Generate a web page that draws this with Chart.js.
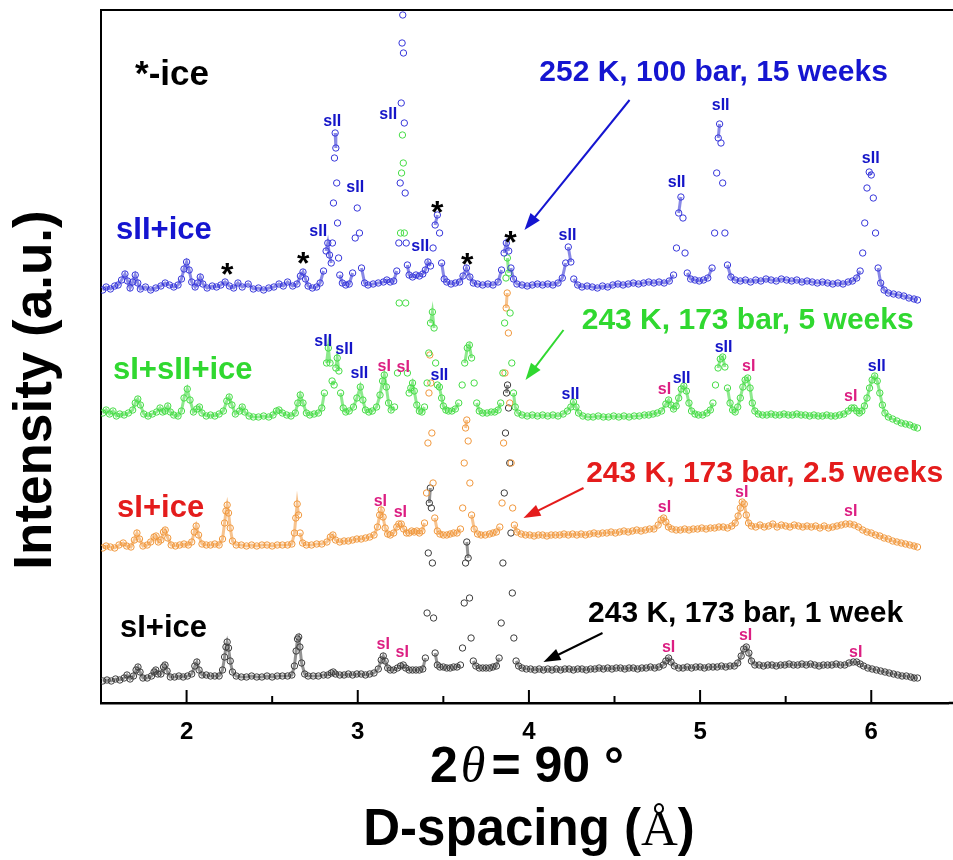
<!DOCTYPE html>
<html>
<head>
<meta charset="utf-8">
<script src="https://cdn.jsdelivr.net/npm/chart.js@4.4.1/dist/chart.umd.min.js"></script>
<style>
  html, body { margin: 0; padding: 0; background: #fff; }
  #wrap { width: 953px; height: 860px; }
</style>
</head>
<body>
<div id="wrap"><canvas id="xrd" width="953" height="860"></canvas></div>
<script>
// [d-spacing (Å), intensity (a.u., stacked)]
const week15 = [
  [1.51,413],[1.53,416],[1.555,414],[1.58,417],[1.60,418],[1.62,423],[1.64,429],[1.655,422],[1.67,415],[1.685,421],
  [1.70,428],[1.715,420],[1.73,414],[1.76,416],[1.79,413],[1.82,415],[1.85,417],[1.875,420],[1.90,418],[1.925,416],
  [1.95,418],[1.97,424],[1.985,434],[2.00,441],[2.015,433],[2.03,421],[2.05,416],[2.065,420],[2.08,426],[2.095,419],
  [2.12,415],[2.15,417],[2.175,416],[2.20,418],[2.225,421],[2.25,417],[2.275,415],[2.30,420],[2.325,416],[2.36,419],
  [2.39,414],[2.42,415],[2.45,413],[2.48,415],[2.51,416],[2.54,419],[2.565,417],[2.59,421],[2.62,417],[2.645,419],
  [2.665,427],[2.68,431],[2.695,424],[2.71,417],[2.735,415],[2.76,416],[2.78,420],[2.80,432],[2.815,452],[2.825,460],
  [2.835,448],[2.845,440],[2.852,460],[2.858,500],[2.864,545],[2.868,570],[2.872,555],[2.877,520],[2.882,480],[2.888,445],
  [2.895,428],[2.91,420],[2.93,418],[2.95,419],[2.97,430],[2.985,465],[2.997,495],[3.01,470],[3.022,435],[3.04,420],
  [3.06,418],[3.09,419],[3.12,420],[3.15,421],[3.17,423],[3.19,421],[3.21,422],[3.228,432],[3.24,460],[3.248,520],
  [3.254,600],[3.259,660],[3.263,688],[3.267,650],[3.272,580],[3.277,510],[3.283,460],[3.29,438],[3.30,428],[3.32,426],
  [3.34,428],[3.36,427],[3.38,429],[3.395,433],[3.41,441],[3.425,437],[3.44,455],[3.452,478],[3.465,488],[3.478,470],
  [3.49,440],[3.505,424],[3.52,421],[3.545,419],[3.57,420],[3.595,421],[3.615,427],[3.635,435],[3.655,426],[3.675,420],
  [3.70,419],[3.73,418],[3.76,419],[3.79,418],[3.82,421],[3.84,433],[3.855,450],[3.868,460],[3.882,452],[3.895,435],
  [3.91,424],[3.93,419],[3.96,418],[3.99,417],[4.02,418],[4.05,419],[4.08,418],[4.11,419],[4.14,418],[4.17,420],
  [4.195,425],[4.215,440],[4.23,456],[4.245,441],[4.262,424],[4.285,418],[4.31,416],[4.34,417],[4.37,416],[4.40,415],
  [4.43,417],[4.46,416],[4.49,418],[4.52,419],[4.55,418],[4.58,419],[4.61,420],[4.64,419],[4.67,420],[4.70,421],
  [4.73,420],[4.76,421],[4.79,420],[4.82,422],[4.845,428],[4.862,455],[4.875,490],[4.888,506],[4.90,485],[4.912,450],
  [4.925,430],[4.945,424],[4.97,423],[4.995,422],[5.02,423],[5.045,425],[5.07,435],[5.085,470],[5.097,530],[5.106,565],
  [5.114,579],[5.122,560],[5.132,520],[5.145,470],[5.16,438],[5.18,426],[5.205,423],[5.235,422],[5.265,423],[5.295,421],
  [5.325,423],[5.355,422],[5.385,424],[5.415,423],[5.445,422],[5.475,424],[5.505,423],[5.535,422],[5.565,423],[5.595,421],
  [5.625,422],[5.655,421],[5.685,420],[5.715,421],[5.745,420],[5.775,419],[5.805,420],[5.835,419],[5.865,421],[5.89,422],
  [5.915,425],[5.935,432],[5.95,450],[5.962,480],[5.975,515],[5.988,531],[6.00,528],[6.012,505],[6.025,470],[6.04,435],
  [6.055,420],[6.075,413],[6.10,410],[6.13,409],[6.16,408],[6.19,407],[6.22,405],[6.25,404],[6.27,403]
];

const week5 = [
  [1.51,290],[1.53,293],[1.55,289],[1.57,292],[1.59,287],[1.61,289],[1.635,288],[1.66,290],[1.685,293],[1.70,300],
  [1.715,304],[1.73,298],[1.75,289],[1.775,287],[1.80,289],[1.825,291],[1.845,295],[1.86,291],[1.875,292],[1.89,297],
  [1.905,291],[1.925,288],[1.95,287],[1.97,292],[1.985,305],[2.004,314],[2.02,303],[2.04,291],[2.06,294],[2.075,296],
  [2.09,290],[2.115,287],[2.14,288],[2.165,287],[2.19,289],[2.215,292],[2.235,302],[2.249,306],[2.265,298],[2.285,289],
  [2.31,292],[2.325,296],[2.34,291],[2.365,287],[2.39,286],[2.42,286],[2.45,287],[2.48,286],[2.505,288],[2.525,292],
  [2.54,293],[2.56,290],[2.585,288],[2.61,287],[2.635,290],[2.65,300],[2.664,308],[2.68,300],[2.70,290],[2.72,288],
  [2.745,289],[2.77,290],[2.79,295],[2.805,310],[2.818,340],[2.828,355],[2.838,340],[2.85,322],[2.862,318],[2.872,335],
  [2.88,345],[2.89,332],[2.90,310],[2.915,295],[2.93,291],[2.95,292],[2.975,296],[2.995,305],[3.015,316],[3.03,303],
  [3.045,293],[3.065,291],[3.085,292],[3.11,296],[3.13,308],[3.145,322],[3.155,328],[3.167,316],[3.18,300],[3.195,293],
  [3.215,296],[3.232,330],[3.242,400],[3.25,470],[3.256,530],[3.261,568],[3.266,540],[3.272,470],[3.28,400],[3.29,330],
  [3.30,310],[3.31,315],[3.32,320],[3.33,312],[3.345,298],[3.36,292],[3.375,291],[3.39,296],[3.405,320],[3.415,350],
  [3.425,380],[3.436,391],[3.446,375],[3.455,340],[3.465,318],[3.477,316],[3.49,305],[3.50,297],[3.515,293],[3.53,292],
  [3.55,292],[3.57,294],[3.59,300],[3.61,318],[3.625,340],[3.64,355],[3.652,358],[3.665,345],[3.68,320],[3.695,300],
  [3.71,292],[3.73,290],[3.755,290],[3.78,291],[3.80,291],[3.82,293],[3.835,300],[3.848,330],[3.858,380],[3.866,425],
  [3.874,445],[3.882,430],[3.89,390],[3.90,340],[3.91,310],[3.92,296],[3.935,290],[3.96,288],[3.99,287],[4.02,288],
  [4.05,287],[4.08,288],[4.11,287],[4.14,288],[4.17,287],[4.20,289],[4.225,292],[4.245,296],[4.26,301],[4.275,296],
  [4.29,290],[4.315,287],[4.345,286],[4.375,286],[4.405,287],[4.435,286],[4.465,286],[4.495,287],[4.525,286],[4.555,287],
  [4.585,286],[4.615,287],[4.645,287],[4.675,288],[4.70,288],[4.725,289],[4.75,290],[4.775,292],[4.80,299],[4.816,303],
  [4.83,298],[4.845,294],[4.86,297],[4.875,305],[4.89,314],[4.905,317],[4.92,312],[4.935,300],[4.95,292],[4.97,289],
  [4.99,288],[5.015,288],[5.04,290],[5.06,293],[5.075,300],[5.09,318],[5.105,335],[5.118,344],[5.132,346],[5.145,336],
  [5.16,315],[5.175,300],[5.19,293],[5.205,291],[5.22,296],[5.235,305],[5.25,316],[5.263,323],[5.278,325],[5.292,315],
  [5.305,300],[5.32,292],[5.34,289],[5.365,288],[5.39,288],[5.415,289],[5.44,288],[5.465,288],[5.49,289],[5.515,288],
  [5.54,288],[5.565,289],[5.59,288],[5.615,288],[5.64,287],[5.665,288],[5.69,287],[5.715,287],[5.74,288],[5.765,287],
  [5.79,287],[5.815,288],[5.84,289],[5.865,292],[5.885,295],[5.90,295],[5.915,292],[5.93,290],[5.945,292],[5.96,297],
  [5.975,305],[5.99,315],[6.005,323],[6.02,327],[6.035,322],[6.05,310],[6.065,298],[6.08,290],[6.10,286],[6.125,284],
  [6.15,282],[6.175,280],[6.20,279],[6.225,278],[6.25,276],[6.27,275]
];

const week2p5 = [
  [1.51,155],[1.53,157],[1.555,156],[1.58,155],[1.605,158],[1.63,160],[1.65,157],[1.675,156],[1.695,163],[1.71,170],
  [1.725,164],[1.745,157],[1.77,158],[1.79,161],[1.81,166],[1.822,167],[1.835,161],[1.85,163],[1.865,171],[1.875,173],
  [1.89,165],[1.91,158],[1.935,157],[1.96,158],[1.985,159],[2.01,158],[2.03,161],[2.045,171],[2.056,177],[2.07,168],
  [2.09,159],[2.115,158],[2.14,158],[2.165,159],[2.19,158],[2.21,164],[2.222,180],[2.23,192],[2.237,198],[2.245,190],
  [2.255,175],[2.268,162],[2.29,158],[2.32,158],[2.35,157],[2.38,158],[2.41,157],[2.44,158],[2.47,158],[2.50,157],
  [2.53,158],[2.56,158],[2.59,158],[2.615,159],[2.63,170],[2.638,185],[2.646,199],[2.654,188],[2.663,170],[2.678,160],
  [2.70,158],[2.73,158],[2.76,159],[2.79,159],[2.82,161],[2.84,166],[2.855,168],[2.87,163],[2.895,161],[2.92,162],
  [2.945,162],[2.97,163],[2.995,164],[3.02,164],[3.045,165],[3.07,166],[3.095,168],[3.115,176],[3.128,188],[3.137,193],
  [3.148,186],[3.16,175],[3.175,169],[3.19,168],[3.21,170],[3.228,176],[3.24,179],[3.254,179],[3.268,174],[3.285,170],
  [3.30,170],[3.315,172],[3.33,171],[3.345,172],[3.36,170],[3.375,172],[3.39,180],[3.402,210],[3.41,260],[3.416,310],
  [3.421,348],[3.427,320],[3.433,270],[3.44,220],[3.45,185],[3.465,172],[3.48,169],[3.50,168],[3.52,168],[3.54,169],
  [3.56,170],[3.58,170],[3.60,174],[3.613,195],[3.622,240],[3.63,275],[3.637,283],[3.645,262],[3.655,220],[3.665,188],
  [3.68,174],[3.70,169],[3.72,168],[3.745,168],[3.77,169],[3.79,170],[3.81,171],[3.83,176],[3.843,200],[3.852,260],
  [3.86,330],[3.867,395],[3.873,410],[3.88,370],[3.888,300],[3.896,240],[3.905,195],[3.915,178],[3.93,171],[3.955,169],
  [3.98,168],[4.005,168],[4.03,167],[4.055,168],[4.08,168],[4.105,167],[4.13,168],[4.155,168],[4.18,168],[4.205,169],
  [4.23,168],[4.255,169],[4.28,168],[4.305,169],[4.33,168],[4.355,169],[4.38,170],[4.405,169],[4.43,170],[4.455,170],
  [4.48,171],[4.505,170],[4.53,171],[4.555,172],[4.58,171],[4.605,172],[4.63,173],[4.655,172],[4.68,173],[4.705,174],
  [4.73,174],[4.755,178],[4.772,183],[4.787,185],[4.80,181],[4.815,176],[4.835,174],[4.86,173],[4.885,173],[4.91,174],
  [4.935,173],[4.96,174],[4.985,174],[5.01,175],[5.035,174],[5.06,175],[5.085,175],[5.11,176],[5.135,176],[5.16,175],
  [5.185,177],[5.205,180],[5.222,187],[5.235,195],[5.246,201],[5.258,199],[5.27,188],[5.283,180],[5.30,177],[5.325,176],
  [5.35,178],[5.375,176],[5.40,177],[5.425,179],[5.45,176],[5.475,178],[5.50,177],[5.525,176],[5.55,178],[5.575,177],
  [5.60,176],[5.625,177],[5.65,176],[5.675,177],[5.70,175],[5.725,177],[5.75,175],[5.775,176],[5.80,177],[5.825,178],
  [5.85,179],[5.875,179],[5.90,178],[5.925,176],[5.95,173],[5.975,171],[6.00,170],[6.025,168],[6.05,167],[6.075,165],
  [6.10,164],[6.125,162],[6.15,161],[6.175,160],[6.20,159],[6.225,158],[6.25,157],[6.27,156]
];

const week1 = [
  [1.51,22],[1.535,23],[1.56,22],[1.585,24],[1.61,23],[1.635,25],[1.652,28],[1.67,24],[1.69,27],[1.705,33],
  [1.716,36],[1.728,31],[1.745,25],[1.77,25],[1.795,27],[1.81,31],[1.82,33],[1.832,29],[1.85,29],[1.865,36],
  [1.874,38],[1.886,32],[1.905,26],[1.93,26],[1.955,27],[1.98,26],[2.005,27],[2.03,29],[2.048,37],[2.06,41],
  [2.073,33],[2.09,28],[2.115,28],[2.14,27],[2.165,27],[2.19,27],[2.21,33],[2.222,46],[2.23,56],[2.237,61],
  [2.245,55],[2.255,42],[2.268,31],[2.29,27],[2.32,26],[2.35,26],[2.38,27],[2.41,26],[2.44,26],[2.47,27],
  [2.50,26],[2.53,27],[2.56,27],[2.59,27],[2.615,28],[2.63,37],[2.64,52],[2.648,64],[2.655,66],[2.662,56],
  [2.672,40],[2.69,29],[2.71,27],[2.74,27],[2.77,27],[2.80,28],[2.825,28],[2.845,30],[2.857,31],[2.87,29],
  [2.895,28],[2.92,28],[2.945,29],[2.97,28],[2.995,29],[3.02,29],[3.045,28],[3.07,29],[3.095,30],[3.12,34],
  [3.137,43],[3.149,47],[3.16,42],[3.175,35],[3.19,33],[3.21,33],[3.232,35],[3.25,37],[3.266,38],[3.28,35],
  [3.30,33],[3.32,33],[3.34,33],[3.36,33],[3.38,34],[3.395,45],[3.405,90],[3.412,150],[3.418,200],[3.424,215],
  [3.43,195],[3.436,140],[3.443,85],[3.452,50],[3.465,38],[3.48,36],[3.50,36],[3.52,35],[3.54,35],[3.56,36],
  [3.58,36],[3.60,38],[3.612,55],[3.622,100],[3.63,140],[3.637,161],[3.645,145],[3.653,105],[3.662,65],[3.675,42],
  [3.69,37],[3.71,35],[3.73,35],[3.75,35],[3.77,35],[3.79,36],[3.81,37],[3.826,45],[3.838,80],[3.848,140],
  [3.856,210],[3.863,270],[3.869,310],[3.875,318],[3.881,295],[3.888,240],[3.895,170],[3.903,110],[3.912,65],[3.925,42],
  [3.94,37],[3.96,35],[3.985,34],[4.01,34],[4.035,33],[4.06,34],[4.085,33],[4.11,34],[4.135,33],[4.16,34],
  [4.185,33],[4.21,34],[4.235,34],[4.26,33],[4.285,34],[4.31,34],[4.335,33],[4.36,34],[4.385,34],[4.41,35],
  [4.435,34],[4.46,35],[4.485,34],[4.51,35],[4.535,35],[4.56,34],[4.585,35],[4.61,35],[4.635,34],[4.66,35],
  [4.685,35],[4.71,36],[4.735,35],[4.76,36],[4.785,38],[4.80,42],[4.816,45],[4.83,41],[4.85,37],[4.875,35],
  [4.90,35],[4.925,36],[4.95,35],[4.975,36],[5.00,36],[5.025,35],[5.05,36],[5.075,36],[5.10,36],[5.125,37],
  [5.15,36],[5.175,37],[5.20,37],[5.22,40],[5.24,47],[5.255,54],[5.27,56],[5.285,50],[5.30,42],[5.32,38],
  [5.345,38],[5.37,37],[5.395,38],[5.42,38],[5.445,37],[5.47,38],[5.495,38],[5.52,39],[5.545,38],[5.57,38],
  [5.595,39],[5.62,38],[5.645,39],[5.67,38],[5.695,37],[5.72,38],[5.745,38],[5.77,38],[5.795,39],[5.82,38],
  [5.845,38],[5.87,40],[5.895,41],[5.915,41],[5.935,39],[5.955,37],[5.98,35],[6.005,34],[6.03,33],[6.055,32],
  [6.08,31],[6.105,30],[6.13,29],[6.155,28],[6.18,27],[6.205,27],[6.23,26],[6.25,25],[6.27,25]
];

// peak assignments: [d, intensity, tag]
const peakTags = [
  [2.769,471,'sII'],[2.851,581,'sII'],[2.985,515,'sII'],[3.178,588,'sII'],[3.365,456,'sII'],
  [4.225,467,'sII'],[4.863,520,'sII'],[5.120,597,'sII'],[5.997,544,'sII'],
  [2.237,436,'*'],[2.681,447,'*'],[3.465,498,'*'],[3.640,446,'*'],[3.892,468,'*'],
  [2.798,361,'sII'],[2.921,353,'sII'],[3.009,329,'sII'],[3.155,336,'sI'],[3.266,335,'sI'],
  [3.477,327,'sII'],[4.243,308,'sII'],[4.792,313,'sI'],[4.892,324,'sII'],[5.137,355,'sII'],
  [5.284,336,'sI'],[5.880,306,'sI'],[6.032,336,'sII'],
  [3.132,201,'sI'],[3.249,190,'sI'],[4.792,195,'sI'],[5.243,210,'sI'],[5.880,191,'sI'],
  [3.149,58,'sI'],[3.260,50,'sI'],[4.816,55,'sI'],[5.266,67,'sI'],[5.909,50,'sI']
];

// phase notes at left of each trace: [d, intensity, text]
const phaseNotes = [
  [1.588,473,'sII+ice'],[1.570,333,'sI+sII+ice'],[1.594,195,'sI+ice'],[1.611,75,'sI+ice']
];
// run conditions with arrow: [textD, textI, text, tailD, tailI, headD, headI]
const runNotes = [
  [5.079,630,'252 K, 100 bar, 15 weeks', 4.588,603, 3.974,473],
  [5.278,382,'243 K, 173 bar, 5 weeks', 4.202,373, 3.980,323],
  [5.377,229,'243 K, 173 bar, 2.5 weeks', 4.319,215, 3.968,185],
  [5.266,89,'243 K, 173 bar, 1 week', 4.430,70, 4.085,41]
];
const keyNote = [1.699,628,'*-ice'];

const xTicks = [2, 3, 4, 5, 6];

const markColors = ['rgb(55,55,218)', 'rgb(70,220,70)', 'rgb(240,152,62)', 'rgb(60,60,60)'];
const bandColors = ['rgba(40,40,210,0.55)', 'rgba(50,215,50,0.55)', 'rgba(240,145,50,0.55)', 'rgba(40,40,40,0.5)'];
const textColors = ['#1515d0', '#30d830', '#e41c1c', '#000000'];
const tagColors = { sII: '#1515c8', sI: '#dc1e82', '*': '#000000' };
const SANS = '"Liberation Sans", Arial, sans-serif';
const SERIF = '"Liberation Serif", "Times New Roman", serif';

function toPoints(rows) {
  return rows.map(r => ({ x: r[0], y: r[1] }));
}

function makeSet(label, rows, i) {
  return {
    label: label,
    data: toPoints(rows),
    showLine: true,
    borderWidth: 3,
    borderColor: bandColors[i],
    // keep the dense baseline band, leave steep peak flanks as separate circles
    segment: {
      borderColor: c => (Math.abs(c.p1.y - c.p0.y) > 16 ? 'rgba(0,0,0,0)' : bandColors[i])
    },
    pointStyle: 'circle',
    pointRadius: 3.2,
    pointHoverRadius: 3.2,
    pointBorderWidth: 1,
    pointBorderColor: markColors[i],
    pointBackgroundColor: 'rgba(255,255,255,0)'
  };
}

function arrow(ctx, x0, y0, x1, y1, color) {
  const ang = Math.atan2(y1 - y0, x1 - x0);
  const len = 17, half = 6;
  ctx.strokeStyle = color;
  ctx.fillStyle = color;
  ctx.lineWidth = 2;
  ctx.beginPath();
  ctx.moveTo(x0, y0);
  ctx.lineTo(x1 - Math.cos(ang) * len * 0.8, y1 - Math.sin(ang) * len * 0.8);
  ctx.stroke();
  ctx.beginPath();
  ctx.moveTo(x1, y1);
  ctx.lineTo(x1 - Math.cos(ang) * len - Math.sin(ang) * half, y1 - Math.sin(ang) * len + Math.cos(ang) * half);
  ctx.lineTo(x1 - Math.cos(ang) * len + Math.sin(ang) * half, y1 - Math.sin(ang) * len - Math.cos(ang) * half);
  ctx.closePath();
  ctx.fill();
}

const overlay = {
  id: 'overlay',
  afterDraw(chart) {
    const { ctx, chartArea: a, scales: { x, y } } = chart;
    ctx.save();

    // top frame and inward ticks
    ctx.strokeStyle = '#000';
    ctx.lineWidth = 2;
    ctx.beginPath();
    ctx.moveTo(a.left, a.top);
    ctx.lineTo(chart.width, a.top);
    ctx.stroke();
    ctx.lineWidth = 2.5;
    ctx.beginPath();
    ctx.moveTo(a.right, a.bottom);
    ctx.lineTo(chart.width, a.bottom);
    ctx.stroke();
    ctx.lineWidth = 2;
    x.ticks.forEach(t => {
      const v = t.value;
      if (v <= 1.5 || v > 6.3 || Math.abs(v * 2 - Math.round(v * 2)) > 1e-6) return;
      const px = x.getPixelForValue(v);
      const len = Number.isInteger(v) ? 13 : 7;
      ctx.beginPath();
      ctx.moveTo(px, a.bottom);
      ctx.lineTo(px, a.bottom - len);
      ctx.stroke();
    });

    // peak tags
    ctx.textAlign = 'center';
    peakTags.forEach(([d, v, tag]) => {
      const px = x.getPixelForValue(d), py = y.getPixelForValue(v);
      ctx.fillStyle = tagColors[tag];
      if (tag === '*') {
        ctx.font = 'bold 32px ' + SANS;
        ctx.textBaseline = 'alphabetic';
        ctx.fillText('*', px, py + 18);
      } else {
        ctx.font = 'bold 16px ' + SANS;
        ctx.textBaseline = 'middle';
        ctx.fillText(tag, px, py);
      }
    });

    // phase notes
    ctx.textAlign = 'left';
    ctx.textBaseline = 'middle';
    ctx.font = 'bold 31px ' + SANS;
    phaseNotes.forEach(([d, v, txt], i) => {
      ctx.fillStyle = textColors[i];
      ctx.fillText(txt, x.getPixelForValue(d), y.getPixelForValue(v));
    });
    ctx.font = 'bold 35px ' + SANS;
    ctx.fillStyle = '#000';
    ctx.fillText(keyNote[2], x.getPixelForValue(keyNote[0]), y.getPixelForValue(keyNote[1]));

    // run conditions + arrows
    runNotes.forEach(([d, v, txt, td, tv, hd, hv], i) => {
      ctx.font = 'bold 30px ' + SANS;
      ctx.textAlign = 'center';
      ctx.textBaseline = 'middle';
      ctx.fillStyle = textColors[i];
      ctx.fillText(txt, x.getPixelForValue(d), y.getPixelForValue(v));
      arrow(ctx, x.getPixelForValue(td), y.getPixelForValue(tv),
        x.getPixelForValue(hd), y.getPixelForValue(hv), textColors[i]);
    });

    // axis titles
    ctx.fillStyle = '#000';
    ctx.textBaseline = 'alphabetic';
    const parts = [
      ['2', 'bold 50px ' + SANS, 3],
      ['\u03B8', 'italic 50px ' + SERIF, 6],
      ['= 90 \u00B0', 'bold 50px ' + SANS, 0]
    ];
    let total = 0;
    parts.forEach(p => { ctx.font = p[1]; total += ctx.measureText(p[0]).width + p[2]; });
    let px = 527 - total / 2;
    ctx.textAlign = 'left';
    parts.forEach(p => {
      ctx.font = p[1];
      ctx.fillText(p[0], px, 782);
      px += ctx.measureText(p[0]).width + p[2];
    });

    const parts2 = [
      ['D-spacing (', 'bold 51px ' + SANS],
      ['\u00C5', '51px ' + SERIF],
      [')', 'bold 51px ' + SANS]
    ];
    total = 0;
    parts2.forEach(p => { ctx.font = p[1]; total += ctx.measureText(p[0]).width; });
    px = 529 - total / 2;
    parts2.forEach(p => {
      ctx.font = p[1];
      ctx.fillText(p[0], px, 845);
      px += ctx.measureText(p[0]).width;
    });

    ctx.translate(51, 390);
    ctx.rotate(-Math.PI / 2);
    ctx.textAlign = 'center';
    ctx.font = 'bold 53px ' + SANS;
    ctx.fillText('Intensity (a.u.)', 0, 0);
    ctx.restore();
  }
};

Chart.defaults.font.family = SANS;
Chart.defaults.color = '#000';

new Chart(document.getElementById('xrd'), {
  type: 'scatter',
  data: {
    datasets: [
      makeSet('252 K, 100 bar, 15 weeks', week15, 0),
      makeSet('243 K, 173 bar, 5 weeks', week5, 1),
      makeSet('243 K, 173 bar, 2.5 weeks', week2p5, 2),
      makeSet('243 K, 173 bar, 1 week', week1, 3)
    ]
  },
  options: {
    responsive: false,
    animation: false,
    events: [],
    layout: { padding: { top: 10, right: 0, left: 0, bottom: 0 } },
    plugins: {
      legend: { display: false },
      tooltip: { enabled: false }
    },
    scales: {
      x: {
        type: 'linear',
        min: 1.5,
        max: 6.453,
        afterFit: s => { s.height = 157; s.paddingRight = 0; s.paddingLeft = 0; },
        grid: { display: false, drawTicks: false },
        border: { display: true, color: '#000', width: 2.5 },
        ticks: {
          stepSize: 0.5,
          includeBounds: false,
          autoSkip: false,
          maxRotation: 0,
          padding: 15,
          color: '#000',
          font: { size: 24, weight: 'bold' },
          callback: v => (xTicks.includes(v) ? String(v) : '')
        }
      },
      y: {
        min: 0,
        max: 693,
        afterFit: s => { s.width = 101; },
        grid: { display: false, drawTicks: false },
        border: { display: true, color: '#000', width: 2 },
        ticks: { display: false }
      }
    }
  },
  plugins: [overlay]
});
</script>
</body>
</html>
